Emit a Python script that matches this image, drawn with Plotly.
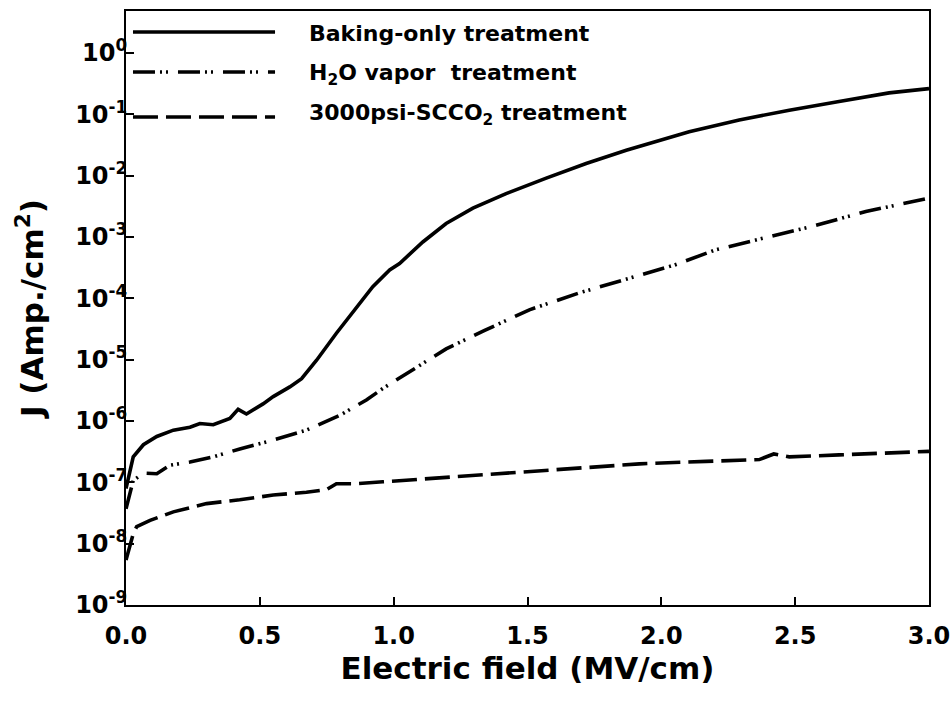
import plotly.graph_objects as go

# Leakage current density J (A/cm^2) versus electric field (MV/cm)
field_baking = [0, 0.027, 0.065, 0.115, 0.177, 0.239, 0.276, 0.326, 0.388, 0.419,
                0.45, 0.512, 0.55, 0.612, 0.656, 0.712, 0.786, 0.848, 0.922, 0.985,
                1.022, 1.109, 1.196, 1.296, 1.42, 1.57, 1.719, 1.869, 1.993, 2.104,
                2.291, 2.478, 2.664, 2.851, 3.0]
j_baking = [7.9e-8, 2.6e-7, 4.1e-7, 5.6e-7, 7.1e-7, 7.9e-7, 9.1e-7, 8.7e-7, 1.1e-6, 1.55e-6,
            1.3e-6, 1.9e-6, 2.5e-6, 3.6e-6, 4.9e-6, 9.8e-6, 2.7e-5, 6.0e-5, 1.55e-4, 2.9e-4,
            3.7e-4, 8.3e-4, 1.66e-3, 2.95e-3, 5.1e-3, 9.1e-3, 1.58e-2, 2.6e-2, 3.8e-2, 5.2e-2,
            8.1e-2, 0.117, 0.162, 0.224, 0.263]

field_h2o = [0, 0.027, 0.065, 0.115, 0.164, 0.239, 0.326, 0.425, 0.55, 0.674,
             0.798, 0.898, 0.96, 1.072, 1.196, 1.34, 1.507, 1.694, 1.88, 2.05,
             2.204, 2.391, 2.565, 2.764, 2.969, 3.0]
j_h2o = [3.7e-8, 1.07e-7, 1.41e-7, 1.38e-7, 1.9e-7, 2.14e-7, 2.6e-7, 3.5e-7, 4.9e-7, 7.1e-7,
         1.23e-6, 2.2e-6, 3.4e-6, 6.8e-6, 1.5e-5, 3.0e-5, 6.5e-5, 1.23e-4, 2.1e-4, 3.5e-4,
         6.2e-4, 9.8e-4, 1.5e-3, 2.6e-3, 4.0e-3, 4.3e-3]

field_scco2 = [0, 0.027, 0.04, 0.09, 0.177, 0.301, 0.425, 0.55, 0.674, 0.749,
               0.786, 0.86, 0.96, 1.196, 1.444, 1.694, 1.918, 2.167, 2.366, 2.42,
               2.478, 2.664, 3.0]
j_scco2 = [5.4e-9, 1.45e-8, 1.9e-8, 2.4e-8, 3.3e-8, 4.5e-8, 5.2e-8, 6.2e-8, 6.9e-8, 7.6e-8,
           9.5e-8, 9.5e-8, 1.02e-7, 1.2e-7, 1.41e-7, 1.66e-7, 2.0e-7, 2.2e-7, 2.35e-7, 2.9e-7,
           2.6e-7, 2.8e-7, 3.2e-7]

series_names = ["Baking-only treatment",
                "H<sub>2</sub>O vapor  treatment",
                "3000psi-SCCO<sub>2</sub> treatment"]

x_ticks = [0.0, 0.5, 1.0, 1.5, 2.0, 2.5, 3.0]
x_tick_text = ["0.0", "0.5", "1.0", "1.5", "2.0", "2.5", "3.0"]
y_exponents = [-9, -8, -7, -6, -5, -4, -3, -2, -1, 0]

FONT = "DejaVu Sans"
LW = 3.6
DASHDOTDOT = "22px,5px,2px,4px,2px,10px"
DASHED = "25px,8px"
styles = [dict(color="black", width=LW),
          dict(color="black", width=LW, dash=DASHDOTDOT),
          dict(color="black", width=LW, dash=DASHED)]

fig = go.Figure()
for xs, ys, name, st in zip([field_baking, field_h2o, field_scco2],
                            [j_baking, j_h2o, j_scco2], series_names, styles):
    fig.add_trace(go.Scatter(x=xs, y=ys, mode="lines", name=name, line=st,
                             showlegend=False))

# Legend drawn in paper coordinates: sample line + label per series
legend_y_line = [0.9646, 0.8973, 0.8215]
legend_y_text = [0.962, 0.893, 0.825]
for name, st, yl, yt in zip(series_names, styles, legend_y_line, legend_y_text):
    fig.add_shape(type="line", xref="paper", yref="paper",
                  x0=0.0087, x1=0.1856, y0=yl, y1=yl, line=st)
    fig.add_annotation(xref="paper", yref="paper", x=0.226, y=yt,
                       xanchor="left", yanchor="middle", showarrow=False,
                       text="<b>%s</b>" % name,
                       font=dict(family=FONT, size=22, color="black"))

axis_common = dict(showline=True, linecolor="black", linewidth=2, mirror=True,
                   ticks="inside", ticklen=8, tickwidth=2, tickcolor="black",
                   showgrid=False, zeroline=False, automargin=False,
                   ticklabeloverflow="allow",
                   tickfont=dict(family=FONT, size=24, color="black"))

fig.update_xaxes(range=[0, 3], tickvals=x_ticks,
                 ticktext=["<b>%s</b>" % t for t in x_tick_text],
                 title=dict(text="<b>Electric field (MV/cm)</b>", standoff=6,
                            font=dict(family=FONT, size=31, color="black")),
                 ticklabelstandoff=8,
                 **axis_common)
fig.update_yaxes(type="log", range=[-9, 0.685],
                 tickvals=[10.0 ** e for e in y_exponents],
                 ticktext=["<b>10<sup>%d</sup></b>" % e for e in y_exponents],
                 title=dict(text="<b>J (Amp./cm<sup>2</sup>)</b>", standoff=22,
                            font=dict(family=FONT, size=31, color="black")),
                 ticklabelstandoff=-8,
                 **axis_common)

fig.update_layout(width=950, height=704,
                  margin=dict(l=126, r=21, t=11, b=99, pad=0),
                  paper_bgcolor="white", plot_bgcolor="white",
                  showlegend=False)

fig.write_html("out.html")
